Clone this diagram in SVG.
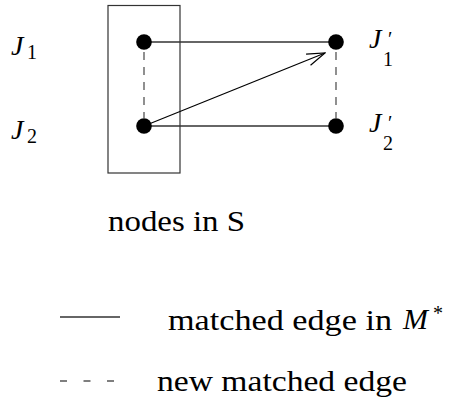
<svg xmlns="http://www.w3.org/2000/svg" width="449" height="417" viewBox="0 0 449 417">
<style>
text{font-family:'Liberation Serif','Times New Roman',Times,'Noto Serif','DejaVu Serif',FreeSerif,serif;fill:#000}
.t{font-size:30px}
.j{font-size:28px;font-style:italic}
.i{font-style:italic}
.s{font-size:20px}
.solid{stroke:#333;stroke-width:1.3;fill:none}
.dash{stroke:#555;stroke-width:1.3;fill:none;stroke-dasharray:8 7}
.node{fill:#000}
</style>
<defs>
<marker id="arr" viewBox="0 0 20 14" refX="19" refY="7" markerWidth="20" markerHeight="14" markerUnits="userSpaceOnUse" orient="auto">
<path d="M1 1 L19 7 L1 13" fill="none" stroke="#000" stroke-width="1.2"/>
</marker>
</defs>
<rect id="setS" x="108" y="5.5" width="72" height="167.5" fill="none" stroke="#333" stroke-width="1.2"/>
<g id="connectors">
<line class="solid" x1="144" y1="42" x2="336" y2="42"/>
<line class="solid" x1="144" y1="126" x2="336" y2="126"/>
<line class="dash" x1="144" y1="52" x2="144" y2="118"/>
<line class="dash" x1="336" y1="52" x2="336" y2="118"/>
<line x1="144" y1="126" x2="325" y2="53" stroke="#000" stroke-width="1.2" marker-end="url(#arr)"/>
</g>
<g id="J1"><circle class="node" cx="144" cy="42" r="7.8"/><text class="j" x="11" y="55">J</text><text class="s" x="27" y="59">1</text></g>
<g id="J2"><circle class="node" cx="144" cy="126" r="7.8"/><text class="j" x="11" y="139">J</text><text class="s" x="27" y="143">2</text></g>
<g id="J1p"><circle class="node" cx="336" cy="42" r="7.8"/><text class="j" x="369" y="48">J</text><text class="s" x="388" y="46">′</text><text class="s" x="383" y="66">1</text></g>
<g id="J2p"><circle class="node" cx="336" cy="126" r="7.8"/><text class="j" x="369" y="132">J</text><text class="s" x="388" y="130">′</text><text class="s" x="383" y="150">2</text></g>
<text class="t" x="108" y="231" textLength="137" lengthAdjust="spacingAndGlyphs">nodes in S</text>
<g id="legend">
<line class="solid" x1="60" y1="317" x2="120" y2="317"/>
<text class="t" x="168" y="330" textLength="224" lengthAdjust="spacingAndGlyphs">matched edge in</text>
<text class="t i" x="403" y="329">M</text><text class="s" x="433" y="320">*</text>
<line x1="60" y1="381" x2="114" y2="381" stroke="#555" stroke-width="1.3" stroke-dasharray="7 16.5"/>
<text class="t" x="157" y="391" textLength="250" lengthAdjust="spacingAndGlyphs">new matched edge</text>
</g>
</svg>
